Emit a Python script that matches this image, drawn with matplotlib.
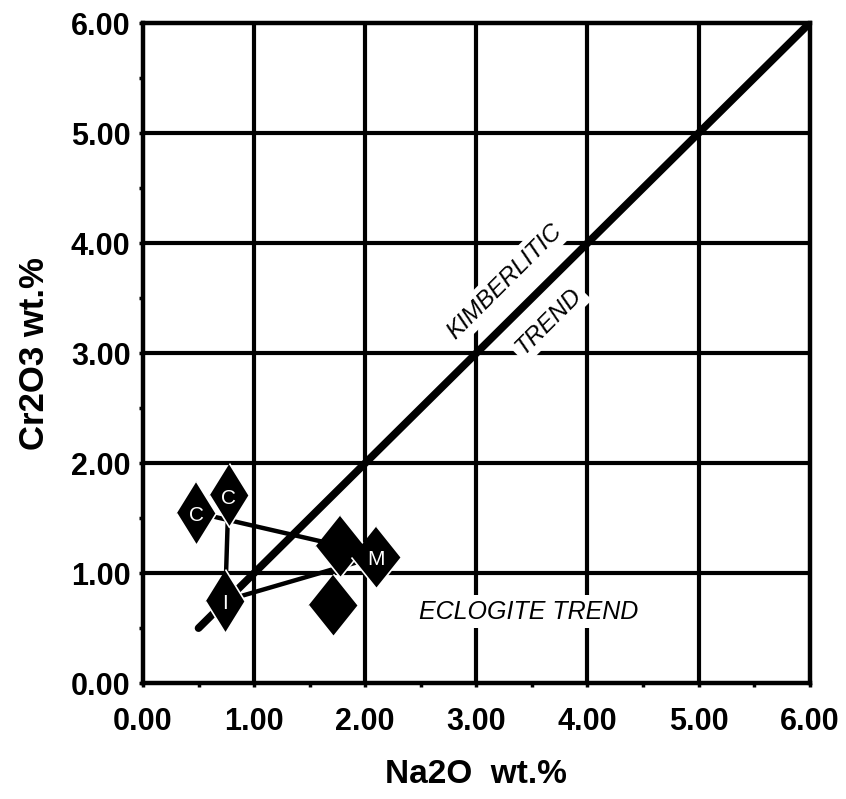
import matplotlib.pyplot as plt
import numpy as np

# garnet / clinopyroxene analyses
narrow_x = [0.48, 0.77, 0.74]
narrow_y = [1.55, 1.71, 0.75]
narrow_lbl = ['C', 'C', 'I']

wide_x = [1.77, 1.71, 2.10]
wide_y = [1.25, 0.71, 1.15]
wide_lbl = ['', '', 'M']

# tie lines between analyses (x0, y0, x1, y1)
tie_x = [[0.48, 1.77], [0.77, 0.74], [0.74, 2.10]]
tie_y = [[1.55, 1.25], [1.71, 0.75], [0.75, 1.15]]

trend_x = [0.5, 6.0]
trend_y = [0.5, 6.0]

ticks = [0, 1, 2, 3, 4, 5, 6]
tick_lbl = ['0.00', '1.00', '2.00', '3.00', '4.00', '5.00', '6.00']

plt.rcParams['font.family'] = ['Liberation Sans', 'DejaVu Sans']

fig = plt.figure(figsize=(8.46, 7.99), dpi=100)
ax = fig.add_axes([0.169, 0.145, 0.788, 0.826])
ax.set_xlim(0, 6)
ax.set_ylim(0, 6)

ax.set_xticks(ticks)
ax.set_yticks(ticks)
ax.set_xticklabels(tick_lbl)
ax.set_yticklabels(tick_lbl)
ax.set_xticks(np.arange(0.5, 6, 1.0), minor=True)
ax.set_yticks(np.arange(0.5, 6, 1.0), minor=True)
for lab in ax.get_xticklabels() + ax.get_yticklabels():
    lab.set_fontweight('bold')
    lab.set_fontsize(22)
ax.tick_params(axis='both', which='major', length=3, width=2.5, direction='out')
ax.tick_params(axis='both', which='minor', length=3, width=2.5, direction='out')
ax.tick_params(axis='x', which='major', pad=14)
ax.tick_params(axis='y', which='major', pad=6)

for s in ax.spines.values():
    s.set_linewidth(3.2)
    s.set_zorder(6)

for t in ticks[1:-1]:
    ax.axhline(t, color='black', lw=3.0, zorder=1)
    ax.axvline(t, color='black', lw=3.0, zorder=1)

box = dict(facecolor='white', edgecolor='none', pad=3)
ax.text(3.25, 3.65, 'KIMBERLITIC', rotation=45, style='italic', fontsize=17.5,
        ha='center', va='center', rotation_mode='anchor', bbox=box, zorder=2)
ax.text(3.65, 3.29, 'TREND', rotation=45, style='italic', fontsize=17.5,
        ha='center', va='center', rotation_mode='anchor', bbox=box, zorder=2)
ax.text(3.47, 0.65, 'ECLOGITE TREND', style='italic', fontsize=18,
        ha='center', va='center', bbox=box, zorder=2)

ax.plot(trend_x, trend_y, color='black', lw=5.5, solid_capstyle='round', zorder=3)
for xs, ys in zip(tie_x, tie_y):
    ax.plot(xs, ys, color='black', lw=3.2, zorder=3)

thin = [(0, 1), (0.62, 0), (0, -1), (-0.62, 0)]
fat = [(0, 1), (0.8, 0), (0, -1), (-0.8, 0)]
ax.plot(narrow_x, narrow_y, ls='none', marker=thin, ms=46, mfc='black',
        mec='white', mew=1.2, zorder=4)
ax.plot(wide_x, wide_y, ls='none', marker=fat, ms=45, mfc='black',
        mec='white', mew=1.2, zorder=4)
for x, y, s in zip(narrow_x + wide_x, narrow_y + wide_y, narrow_lbl + wide_lbl):
    if s:
        ax.text(x, y - 0.03, s, color='white', fontsize=15, ha='center',
                va='center', zorder=5)

ax.set_xlabel('Na2O  wt.%', fontsize=24, fontweight='bold', labelpad=16)
ax.set_ylabel('Cr2O3 wt.%', fontsize=25, fontweight='bold', labelpad=14)

fig.savefig('out.png', dpi=100, facecolor='white')
